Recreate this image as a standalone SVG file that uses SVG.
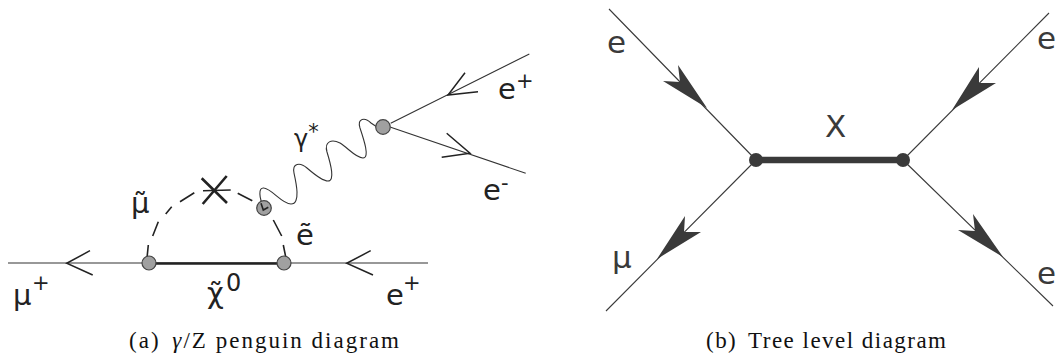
<svg xmlns="http://www.w3.org/2000/svg" width="1057" height="358" viewBox="0 0 1057 358">
<style>
.t{font-family:"DejaVu Sans",sans-serif;font-size:29px;fill:#222}
.s{font-size:21px}
.tb{font-family:"DejaVu Sans",sans-serif;font-size:31px;fill:#3a3a3a}
.c{font-family:"Liberation Serif",serif;font-size:23px;fill:#111}
.th{fill:none;stroke:#333;stroke-width:1.1}
.h{fill:none;stroke:#222;stroke-width:1.5}
.d{fill:none;stroke:#222;stroke-width:1.6}
.n{fill:#a0a0a0;stroke:#444;stroke-width:1.2}
.b{fill:none;stroke:#3a3a3a;stroke-width:1.1}
.a{fill:#3a3a3a}
</style>
<rect width="1057" height="358" fill="#fff"/>
<g id="connectors-a">
<path class="th" d="M8 263H428"/>
<path d="M149 263.5H284" fill="none" stroke="#222" stroke-width="2.6"/>
<path class="h" d="M90 250.7L66.7 263.3L92.7 275"/>
<path class="h" d="M370.7 250.7L346.7 263.3L373 275"/>
<path class="th" d="M390.7 123.3L529.3 54"/>
<path class="h" d="M465 72.7L448 95L478 91.7"/>
<path class="th" d="M390.7 127.3L525.7 173.3"/>
<path class="h" d="M446.7 133.3L470 153.3L441.7 157.3"/>
<path class="th" d="M264 208C259 198 258 187 264 188C272 189 282 204 291 204C301 204 296 182 294 173C292 163 300 162 307 168C314 174 322 181 328 181C335 181 331 165 327 152C324 141 332 139 340 143C348 148 356 158 363 158C370 158 364 140 360 128C357 118 365 117 371 123L377 127"/>
<path class="d" d="M147 258L148.3 245M152.7 236L158.3 221.7M165.7 214L171.7 206.7M180 201.7L194.3 192.7M203 190.7L230.7 190M237.7 193.3L252.3 200.7M273.3 220L281.7 236M283.3 245L286 258.3"/>
</g>
<g id="node-left"><circle class="n" cx="149" cy="263" r="7"/></g>
<g id="node-right"><circle class="n" cx="284" cy="263" r="7"/></g>
<g id="node-loop"><circle class="n" cx="264" cy="208" r="7.3"/><path class="d" d="M261 203.3L263.3 210L268.3 207.3"/></g>
<g id="node-top"><circle class="n" cx="383" cy="127" r="7.3"/></g>
<g id="node-cross"><path d="M201.7 178.3L227 203M226.7 176L202.7 204" fill="none" stroke="#222" stroke-width="2.6"/></g>
<g id="labels-a">
<text class="t" x="131" y="213">μ̃</text>
<text class="t" x="296" y="245">ẽ</text>
<text class="t" x="294" y="147" style="font-size:24px">γ<tspan class="s" dy="-8">*</tspan></text>
<text class="t" x="498" y="99">e</text><text class="t s" x="516" y="88">+</text>
<text class="t" x="483" y="200">e</text><text class="t s" x="501" y="190">-</text>
<text class="t" x="13" y="305">μ</text><text class="t s" x="32" y="290">+</text>
<text class="t" x="207" y="303">χ̃</text><text class="t" x="226" y="291" style="font-size:24px">0</text>
<text class="t" x="386" y="305">e</text><text class="t s" x="403" y="290">+</text>
<text class="c" x="129" y="348" textLength="270" lengthAdjust="spacing">(a) <tspan dx="4" font-style="italic">γ</tspan>/Z penguin diagram</text>
</g>
<g id="connectors-b">
<path class="b" d="M609 9L756 160M1049 13L903 160M606 311L756 160M1053 306L903 160"/>
<path d="M756 160H903" fill="none" stroke="#3a3a3a" stroke-width="6.5"/>
<path class="a" d="M707 108L678 65L680 82L663 81Z"/>
<path class="a" d="M952 110L979 67L979 83L996 83Z"/>
<path class="a" d="M657 259L685 216L684 232L701 232Z"/>
<path class="a" d="M1003 257L973 214L975 231L958 230Z"/>
</g>
<g id="node-b1"><circle class="a" cx="756" cy="160" r="7"/></g>
<g id="node-b2"><circle class="a" cx="903" cy="160" r="7"/></g>
<g id="labels-b">
<text class="tb" x="607" y="53">e</text>
<text class="tb" x="1037" y="49">e</text>
<text class="tb" x="1037" y="284">e</text>
<text class="tb" x="612" y="268">μ</text>
<text class="tb" x="825" y="137">X</text>
<text class="c" x="706" y="348" textLength="240" lengthAdjust="spacing">(b) <tspan dx="4">Tree level diagram</tspan></text>
</g>
</svg>
